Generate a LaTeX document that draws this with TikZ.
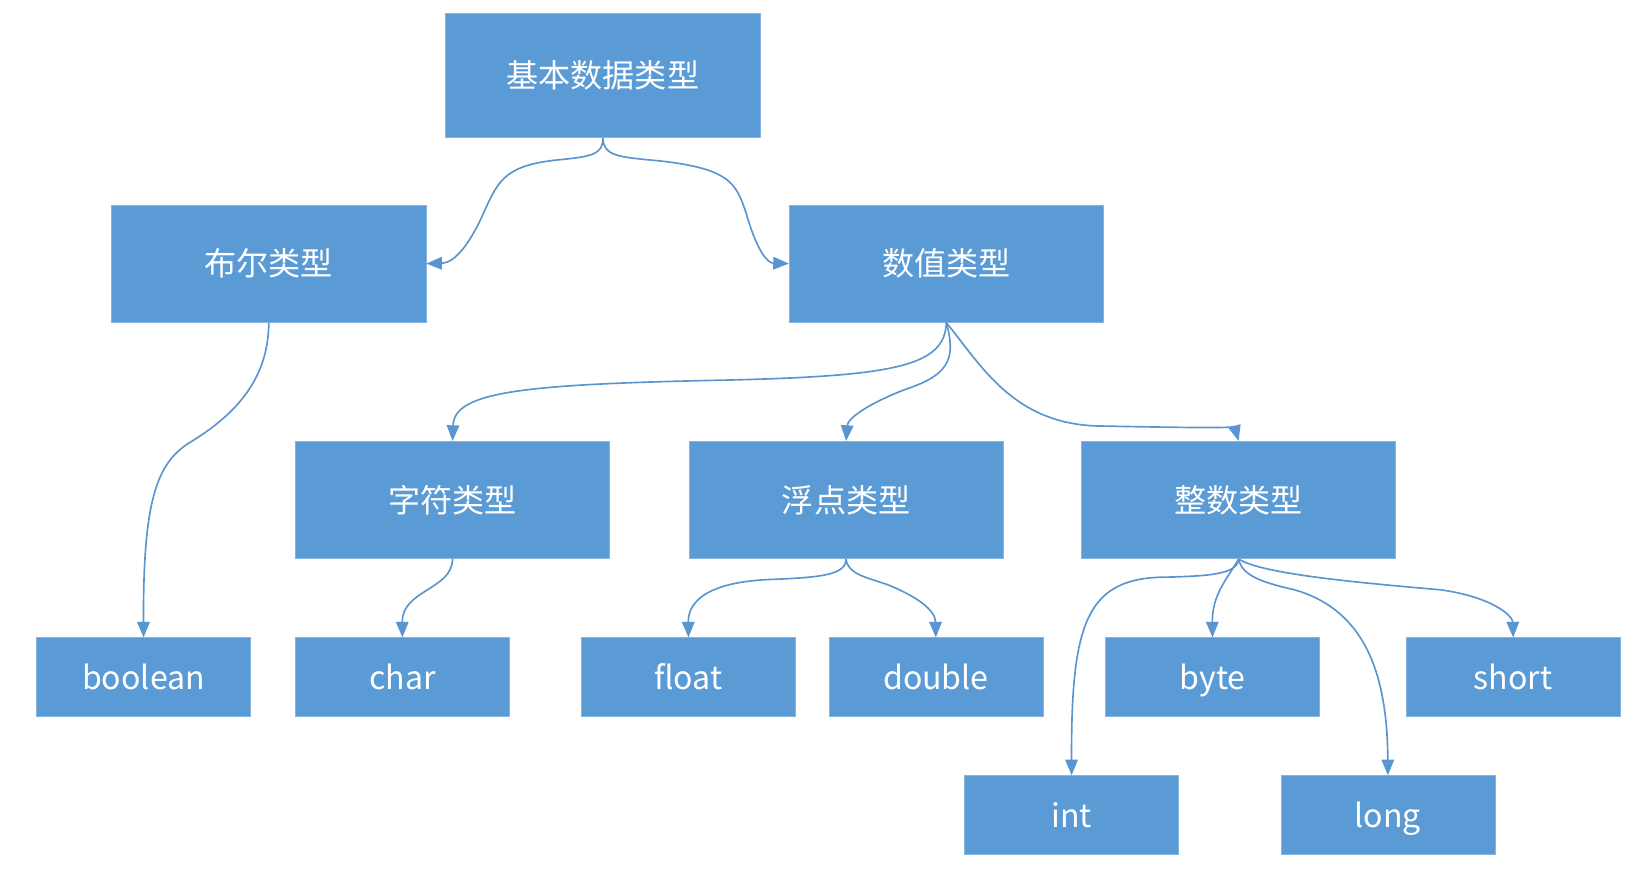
\documentclass[tikz,border=0pt]{standalone}
\usepackage{fontspec}
\setmainfont{Noto Sans CJK SC}
\usepackage{xcolor}
\usetikzlibrary{arrows.meta}
\definecolor{boxblue}{HTML}{5B9BD5}
\definecolor{lineblue}{HTML}{5A95D0}

\begin{document}
\begin{tikzpicture}[x=0.02cm, y=-0.02cm,
    box/.style={rectangle, fill=boxblue, draw=boxblue!75!white, line width=0.4pt, text=white, font=\fontsize{17.5}{20}\selectfont, inner sep=0pt, text height=15.5pt, text depth=2pt},
    big/.style={box, minimum width=6.02cm, minimum height=2.25cm},
    small/.style={box, minimum width=4.1cm, minimum height=1.5cm},
    link/.style={draw=lineblue, line width=0.9pt, -{Triangle[length=0.3cm, width=0.24cm]}}]
    \useasboundingbox (0,0) rectangle (1571,849);
    \node[big, minimum height=2.38cm] (root) at (577.5,72.4) {基本数据类型};
    \node[big] (bool) at (257.5,252.5) {布尔类型};
    \node[big] (num) at (906.5,252.5) {数值类型};
    \node[big] (chr) at (433.5,479) {字符类型};
    \node[big] (flt) at (810.5,479) {浮点类型};
    \node[big] (intg) at (1186.5,479) {整数类型};
    \node[small] (boolean) at (137.5,648.5) {boolean};
    \node[small] (char) at (385.5,648.5) {char};
    \node[small] (float) at (659.5,648.5) {float};
    \node[small] (double) at (896.5,648.5) {double};
    \node[small] (byte) at (1161.5,648.5) {byte};
    \node[small] (short) at (1449.5,648.5) {short};
    \node[small] (int) at (1026.5,780.5) {int};
    \node[small] (long) at (1329.5,780.5) {long};

    \draw[link] (root.south) .. controls (578,148) and (566,150) .. (536,153)
        .. controls (485,158) and (478,172) .. (465,200)
        .. controls (450,235) and (435,252) .. (bool.east);
    \draw[link] (root.south) .. controls (578,148) and (590,150) .. (620,153)
        .. controls (700,160) and (705,175) .. (715,205)
        .. controls (725,240) and (735,252) .. (num.west);
    \draw[link] (bool.south) .. controls (257,360) and (230,395) .. (180,425)
        .. controls (150,445) and (137,480) .. (boolean.north);
    \draw[link] (num.south) .. controls (905,350) and (860,360) .. (700,364)
        .. controls (500,368) and (435,375) .. (chr.north);
    \draw[link] (num.south) .. controls (915,340) and (912,358) .. (870,372)
        .. controls (835,385) and (812,400) .. (flt.north);
    \draw[link] (num.south) .. controls (940,350) and (970,405) .. (1050,408)
        .. controls (1150,410) and (1183,410) .. (intg.north);

    \draw[link] (chr.south) .. controls (433,565) and (385,565) .. (char.north);
    \draw[link] (flt.south) .. controls (810,550) and (790,553) .. (740,555)
        .. controls (680,557) and (659,575) .. (float.north);
    \draw[link] (flt.south) .. controls (812,550) and (830,553) .. (850,560)
        .. controls (880,572) and (896,585) .. (double.north);

    \draw[link] (intg.south) .. controls (1185,550) and (1160,552) .. (1110,553)
        .. controls (1040,556) and (1026,600) .. (int.north);
    \draw[link] (intg.south) .. controls (1175,555) and (1161,570) .. (byte.north);
    \draw[link] (intg.south) .. controls (1190,552) and (1210,558) .. (1240,565)
        .. controls (1310,585) and (1329,650) .. (long.north);
    \draw[link] (intg.south) .. controls (1210,550) and (1300,558) .. (1380,565)
        .. controls (1430,572) and (1449,590) .. (short.north);
\end{tikzpicture}
\end{document}
